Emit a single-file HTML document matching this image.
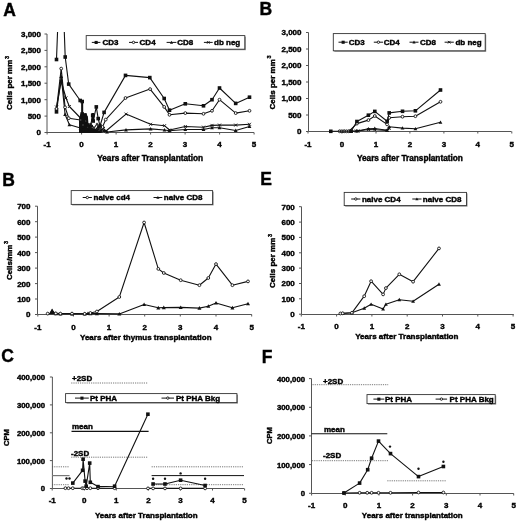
<!DOCTYPE html>
<html><head><meta charset="utf-8"><style>
html,body{margin:0;padding:0;background:#fff;}
svg{display:block;filter:blur(0.35px);}
text{font-family:"Liberation Sans",sans-serif;fill:#000;stroke:#000;stroke-width:0.4px;}
</style></head><body>
<svg width="520" height="523" viewBox="0 0 520 523">
<rect width="520" height="523" fill="#fff"/>
<defs><clipPath id="clipA"><rect x="46" y="32" width="210" height="103"/></clipPath></defs>
<text x="3.3" y="15.5" text-anchor="start" font-size="17.5" font-weight="bold" >A</text>
<line x1="47" y1="34" x2="47" y2="132.5" stroke="#555" stroke-width="1"/>
<line x1="44.5" y1="132.5" x2="47" y2="132.5" stroke="#555" stroke-width="1"/>
<text x="41" y="135.4" text-anchor="end" font-size="8" font-weight="bold" >0</text>
<line x1="44.5" y1="116.1" x2="47" y2="116.1" stroke="#555" stroke-width="1"/>
<text x="41" y="119" text-anchor="end" font-size="8" font-weight="bold" >500</text>
<line x1="44.5" y1="99.7" x2="47" y2="99.7" stroke="#555" stroke-width="1"/>
<text x="41" y="102.6" text-anchor="end" font-size="8" font-weight="bold" >1,000</text>
<line x1="44.5" y1="83.2" x2="47" y2="83.2" stroke="#555" stroke-width="1"/>
<text x="41" y="86.2" text-anchor="end" font-size="8" font-weight="bold" >1,500</text>
<line x1="44.5" y1="66.8" x2="47" y2="66.8" stroke="#555" stroke-width="1"/>
<text x="41" y="69.7" text-anchor="end" font-size="8" font-weight="bold" >2,000</text>
<line x1="44.5" y1="50.4" x2="47" y2="50.4" stroke="#555" stroke-width="1"/>
<text x="41" y="53.3" text-anchor="end" font-size="8" font-weight="bold" >2,500</text>
<line x1="44.5" y1="34" x2="47" y2="34" stroke="#555" stroke-width="1"/>
<text x="41" y="36.9" text-anchor="end" font-size="8" font-weight="bold" >3,000</text>
<line x1="47" y1="132.5" x2="254" y2="132.5" stroke="#555" stroke-width="1"/>
<line x1="47.1" y1="132.5" x2="47.1" y2="134.5" stroke="#555" stroke-width="1"/>
<text x="47.1" y="147.4" text-anchor="middle" font-size="8" font-weight="bold" >-1</text>
<line x1="81.6" y1="132.5" x2="81.6" y2="134.5" stroke="#555" stroke-width="1"/>
<text x="81.6" y="147.4" text-anchor="middle" font-size="8" font-weight="bold" >0</text>
<line x1="116.1" y1="132.5" x2="116.1" y2="134.5" stroke="#555" stroke-width="1"/>
<text x="116.1" y="147.4" text-anchor="middle" font-size="8" font-weight="bold" >1</text>
<line x1="150.6" y1="132.5" x2="150.6" y2="134.5" stroke="#555" stroke-width="1"/>
<text x="150.6" y="147.4" text-anchor="middle" font-size="8" font-weight="bold" >2</text>
<line x1="185.1" y1="132.5" x2="185.1" y2="134.5" stroke="#555" stroke-width="1"/>
<text x="185.1" y="147.4" text-anchor="middle" font-size="8" font-weight="bold" >3</text>
<line x1="219.6" y1="132.5" x2="219.6" y2="134.5" stroke="#555" stroke-width="1"/>
<text x="219.6" y="147.4" text-anchor="middle" font-size="8" font-weight="bold" >4</text>
<line x1="254.1" y1="132.5" x2="254.1" y2="134.5" stroke="#555" stroke-width="1"/>
<text x="254.1" y="147.4" text-anchor="middle" font-size="8" font-weight="bold" >5</text>
<text x="150.2" y="161" text-anchor="middle" font-size="8.25" font-weight="bold" >Years after Transplantation</text>
<text transform="translate(12,83) rotate(-90)" text-anchor="middle" font-size="8" font-weight="bold">Cells per mm<tspan font-size="5.5" dx="0.6" dy="-3.5">3</tspan></text>
<rect x="87.2" y="36.6" width="158.6" height="13.6" fill="#888"/>
<rect x="86.2" y="35.6" width="158.6" height="13.6" fill="#fff" stroke="#333" stroke-width="0.9"/>
<line x1="91.8" y1="42.4" x2="100.4" y2="42.4" stroke="#111" stroke-width="1"/>
<rect x="94.6" y="40.9" width="3.1" height="3.1" fill="#111"/>
<text x="102.5" y="45.3" text-anchor="start" font-size="8" font-weight="bold" >CD3</text>
<line x1="129" y1="42.4" x2="138" y2="42.4" stroke="#111" stroke-width="1"/>
<circle cx="133.5" cy="42.4" r="1.2" fill="#fff" stroke="#111" stroke-width="0.9"/>
<text x="139.6" y="45.3" text-anchor="start" font-size="8" font-weight="bold" >CD4</text>
<line x1="166.6" y1="42.4" x2="176.4" y2="42.4" stroke="#111" stroke-width="1"/>
<path d="M171.5,40.8L173.1,43.7L169.9,43.7Z" fill="#111"/>
<text x="177.3" y="45.3" text-anchor="start" font-size="8" font-weight="bold" >CD8</text>
<line x1="203.9" y1="42.4" x2="212.7" y2="42.4" stroke="#111" stroke-width="1"/>
<path d="M207,41.1L209.6,43.7M209.6,41.1L207,43.7" stroke="#111" stroke-width="0.9"/>
<text x="214" y="45.3" text-anchor="start" font-size="8" font-weight="bold" >db neg</text>
<path d="M79,133 L79,119 L80.5,113.5 L86.5,113 L88,118 L88.5,124 L91,128 L97,129.5 L100,131 L102,133 Z" fill="#111"/>
<rect x="91.5" y="113" width="2.8" height="8" fill="#111"/>
<polyline points="56.5,112 61.2,76.5 65.1,114.5 69.4,124.8 80.5,128 83,130 86,127 89,131 92,129 95,131 98,129 101,131 104,130.5 107,132 126,129.9 150.6,128.9 164.5,130 169.5,130.7 185.3,129.5 203.5,129.5 212,127.7 219.5,127.7 235.7,130.5 249.5,126.5" fill="none" stroke="#111" stroke-width="1.1" stroke-linejoin="round" clip-path="url(#clipA)"/>
<path d="M56.5,110.1L58.4,113.5L54.6,113.5Z" fill="#111"/>
<path d="M61.2,74.6L63.1,78L59.3,78Z" fill="#111"/>
<path d="M65.1,112.6L67,116L63.2,116Z" fill="#111"/>
<path d="M69.4,122.9L71.3,126.3L67.5,126.3Z" fill="#111"/>
<path d="M80.5,126.1L82.4,129.5L78.6,129.5Z" fill="#111"/>
<path d="M83,128.1L84.9,131.5L81.1,131.5Z" fill="#111"/>
<path d="M86,125.1L87.9,128.5L84.1,128.5Z" fill="#111"/>
<path d="M89,129.1L90.9,132.5L87.1,132.5Z" fill="#111"/>
<path d="M92,127.1L93.9,130.5L90.1,130.5Z" fill="#111"/>
<path d="M95,129.1L96.9,132.5L93.1,132.5Z" fill="#111"/>
<path d="M98,127.1L99.9,130.5L96.1,130.5Z" fill="#111"/>
<path d="M101,129.1L102.9,132.5L99.1,132.5Z" fill="#111"/>
<path d="M104,128.6L105.9,132L102.1,132Z" fill="#111"/>
<path d="M107,130.1L108.9,133.5L105.1,133.5Z" fill="#111"/>
<path d="M126,128L127.9,131.4L124.1,131.4Z" fill="#111"/>
<path d="M150.6,127L152.5,130.4L148.7,130.4Z" fill="#111"/>
<path d="M164.5,128.1L166.4,131.5L162.6,131.5Z" fill="#111"/>
<path d="M169.5,128.8L171.4,132.2L167.6,132.2Z" fill="#111"/>
<path d="M185.3,127.6L187.2,131L183.4,131Z" fill="#111"/>
<path d="M203.5,127.6L205.4,131L201.6,131Z" fill="#111"/>
<path d="M212,125.8L213.9,129.2L210.1,129.2Z" fill="#111"/>
<path d="M219.5,125.8L221.4,129.2L217.6,129.2Z" fill="#111"/>
<path d="M235.7,128.6L237.6,132L233.8,132Z" fill="#111"/>
<path d="M249.5,124.6L251.4,128L247.6,128Z" fill="#111"/>
<polyline points="56.5,107 61.2,81.5 66,98 69.4,106.5 80.5,118 83,126 86,123 89,129 92,126 95,130 98,127 101,130 103.5,128.5 106,131 126,114.1 150.6,124.3 164.5,125.7 169.5,130 185.3,126.5 203.5,127.2 212,125.4 219.5,125.1 235.7,125.1 249.5,124.3" fill="none" stroke="#111" stroke-width="1.1" stroke-linejoin="round" clip-path="url(#clipA)"/>
<path d="M55,105.5L58,108.5M58,105.5L55,108.5" stroke="#111" stroke-width="0.9"/>
<path d="M59.7,80L62.7,83M62.7,80L59.7,83" stroke="#111" stroke-width="0.9"/>
<path d="M64.5,96.5L67.5,99.5M67.5,96.5L64.5,99.5" stroke="#111" stroke-width="0.9"/>
<path d="M67.9,105L70.9,108M70.9,105L67.9,108" stroke="#111" stroke-width="0.9"/>
<path d="M79.6,117.1L81.4,118.9M81.4,117.1L79.6,118.9" stroke="#111" stroke-width="0.9"/>
<path d="M82.1,125.1L83.9,126.9M83.9,125.1L82.1,126.9" stroke="#111" stroke-width="0.9"/>
<path d="M85.1,122.1L86.9,123.9M86.9,122.1L85.1,123.9" stroke="#111" stroke-width="0.9"/>
<path d="M88.1,128.1L89.9,129.9M89.9,128.1L88.1,129.9" stroke="#111" stroke-width="0.9"/>
<path d="M91.1,125.1L92.9,126.9M92.9,125.1L91.1,126.9" stroke="#111" stroke-width="0.9"/>
<path d="M94.1,129.1L95.9,130.9M95.9,129.1L94.1,130.9" stroke="#111" stroke-width="0.9"/>
<path d="M97.1,126.1L98.9,127.9M98.9,126.1L97.1,127.9" stroke="#111" stroke-width="0.9"/>
<path d="M100.1,129.1L101.9,130.9M101.9,129.1L100.1,130.9" stroke="#111" stroke-width="0.9"/>
<path d="M102,127L105,130M105,127L102,130" stroke="#111" stroke-width="0.9"/>
<path d="M104.5,129.5L107.5,132.5M107.5,129.5L104.5,132.5" stroke="#111" stroke-width="0.9"/>
<path d="M124.5,112.6L127.5,115.6M127.5,112.6L124.5,115.6" stroke="#111" stroke-width="0.9"/>
<path d="M149.1,122.8L152.1,125.8M152.1,122.8L149.1,125.8" stroke="#111" stroke-width="0.9"/>
<path d="M163,124.2L166,127.2M166,124.2L163,127.2" stroke="#111" stroke-width="0.9"/>
<path d="M168,128.5L171,131.5M171,128.5L168,131.5" stroke="#111" stroke-width="0.9"/>
<path d="M183.8,125L186.8,128M186.8,125L183.8,128" stroke="#111" stroke-width="0.9"/>
<path d="M202,125.7L205,128.7M205,125.7L202,128.7" stroke="#111" stroke-width="0.9"/>
<path d="M210.5,123.9L213.5,126.9M213.5,123.9L210.5,126.9" stroke="#111" stroke-width="0.9"/>
<path d="M218,123.6L221,126.6M221,123.6L218,126.6" stroke="#111" stroke-width="0.9"/>
<path d="M234.2,123.6L237.2,126.6M237.2,123.6L234.2,126.6" stroke="#111" stroke-width="0.9"/>
<path d="M248,122.8L251,125.8M251,122.8L248,125.8" stroke="#111" stroke-width="0.9"/>
<polyline points="56.5,109 61.2,68.6 65.1,107.3 68.8,118.2 80.5,120 83,125 86,121 88,127 91,124 94,128 97,124 100,129 102.5,127 105.7,119.6 125.5,98 150.1,89.1 164.2,106.9 169.5,114.8 185.3,113.1 203.5,113.8 212,110.8 219.5,99.7 235.7,113.1 249.5,110.8" fill="none" stroke="#111" stroke-width="1.1" stroke-linejoin="round" clip-path="url(#clipA)"/>
<circle cx="56.5" cy="109" r="1.4" fill="#fff" stroke="#111" stroke-width="0.9"/>
<circle cx="61.2" cy="68.6" r="1.4" fill="#fff" stroke="#111" stroke-width="0.9"/>
<circle cx="65.1" cy="107.3" r="1.4" fill="#fff" stroke="#111" stroke-width="0.9"/>
<circle cx="68.8" cy="118.2" r="1.4" fill="#fff" stroke="#111" stroke-width="0.9"/>
<circle cx="80.5" cy="120" r="0.8" fill="#fff" stroke="#111" stroke-width="0.9"/>
<circle cx="83" cy="125" r="0.8" fill="#fff" stroke="#111" stroke-width="0.9"/>
<circle cx="86" cy="121" r="0.8" fill="#fff" stroke="#111" stroke-width="0.9"/>
<circle cx="88" cy="127" r="0.8" fill="#fff" stroke="#111" stroke-width="0.9"/>
<circle cx="91" cy="124" r="0.8" fill="#fff" stroke="#111" stroke-width="0.9"/>
<circle cx="94" cy="128" r="0.8" fill="#fff" stroke="#111" stroke-width="0.9"/>
<circle cx="97" cy="124" r="0.8" fill="#fff" stroke="#111" stroke-width="0.9"/>
<circle cx="100" cy="129" r="0.8" fill="#fff" stroke="#111" stroke-width="0.9"/>
<circle cx="102.5" cy="127" r="1.4" fill="#fff" stroke="#111" stroke-width="0.9"/>
<circle cx="105.7" cy="119.6" r="1.4" fill="#fff" stroke="#111" stroke-width="0.9"/>
<circle cx="125.5" cy="98" r="1.4" fill="#fff" stroke="#111" stroke-width="0.9"/>
<circle cx="150.1" cy="89.1" r="1.4" fill="#fff" stroke="#111" stroke-width="0.9"/>
<circle cx="164.2" cy="106.9" r="1.4" fill="#fff" stroke="#111" stroke-width="0.9"/>
<circle cx="169.5" cy="114.8" r="1.4" fill="#fff" stroke="#111" stroke-width="0.9"/>
<circle cx="185.3" cy="113.1" r="1.4" fill="#fff" stroke="#111" stroke-width="0.9"/>
<circle cx="203.5" cy="113.8" r="1.4" fill="#fff" stroke="#111" stroke-width="0.9"/>
<circle cx="212" cy="110.8" r="1.4" fill="#fff" stroke="#111" stroke-width="0.9"/>
<circle cx="219.5" cy="99.7" r="1.4" fill="#fff" stroke="#111" stroke-width="0.9"/>
<circle cx="235.7" cy="113.1" r="1.4" fill="#fff" stroke="#111" stroke-width="0.9"/>
<circle cx="249.5" cy="110.8" r="1.4" fill="#fff" stroke="#111" stroke-width="0.9"/>
<polyline points="56.5,59.5 61,-60 65.2,57 68.7,84.1 80.2,100.5 82.2,101.5 82.2,114 84,116 86,118 88,125 90,128 92.7,115.4 93.2,121 96.3,106.9 98.2,118.6 100,126 104.1,112.4 125.5,75.4 149.8,77.6 164.2,98.5 169.5,110.2 185.3,103.8 203.5,105.8 212,99.7 219.5,88 235.7,103.4 249.5,97.2" fill="none" stroke="#111" stroke-width="1.1" stroke-linejoin="round" clip-path="url(#clipA)"/>
<rect x="54.7" y="57.7" width="3.6" height="3.6" fill="#111"/>
<rect x="63.4" y="55.2" width="3.6" height="3.6" fill="#111"/>
<rect x="66.9" y="82.3" width="3.6" height="3.6" fill="#111"/>
<rect x="78.4" y="98.7" width="3.6" height="3.6" fill="#111"/>
<rect x="80.4" y="99.7" width="3.6" height="3.6" fill="#111"/>
<rect x="80.4" y="112.2" width="3.6" height="3.6" fill="#111"/>
<rect x="82.2" y="114.2" width="3.6" height="3.6" fill="#111"/>
<rect x="84.2" y="116.2" width="3.6" height="3.6" fill="#111"/>
<rect x="86.2" y="123.2" width="3.6" height="3.6" fill="#111"/>
<rect x="88.2" y="126.2" width="3.6" height="3.6" fill="#111"/>
<rect x="90.9" y="113.6" width="3.6" height="3.6" fill="#111"/>
<rect x="91.4" y="119.2" width="3.6" height="3.6" fill="#111"/>
<rect x="94.5" y="105.1" width="3.6" height="3.6" fill="#111"/>
<rect x="96.4" y="116.8" width="3.6" height="3.6" fill="#111"/>
<rect x="98.2" y="124.2" width="3.6" height="3.6" fill="#111"/>
<rect x="102.3" y="110.6" width="3.6" height="3.6" fill="#111"/>
<rect x="123.7" y="73.6" width="3.6" height="3.6" fill="#111"/>
<rect x="148" y="75.8" width="3.6" height="3.6" fill="#111"/>
<rect x="162.4" y="96.7" width="3.6" height="3.6" fill="#111"/>
<rect x="167.7" y="108.4" width="3.6" height="3.6" fill="#111"/>
<rect x="183.5" y="102" width="3.6" height="3.6" fill="#111"/>
<rect x="201.7" y="104" width="3.6" height="3.6" fill="#111"/>
<rect x="210.2" y="97.9" width="3.6" height="3.6" fill="#111"/>
<rect x="217.7" y="86.2" width="3.6" height="3.6" fill="#111"/>
<rect x="233.9" y="101.6" width="3.6" height="3.6" fill="#111"/>
<rect x="247.7" y="95.4" width="3.6" height="3.6" fill="#111"/>
<rect x="54.7" y="109.7" width="3.6" height="3.6" fill="#111"/>
<line x1="82.2" y1="100" x2="82.2" y2="115" stroke="#111" stroke-width="2"/>
<text x="259.6" y="14.9" text-anchor="start" font-size="17.5" font-weight="bold" >B</text>
<line x1="308.5" y1="32.5" x2="308.5" y2="131.5" stroke="#555" stroke-width="1"/>
<line x1="306" y1="131.5" x2="308.5" y2="131.5" stroke="#555" stroke-width="1"/>
<text x="301.5" y="134.4" text-anchor="end" font-size="8" font-weight="bold" >0</text>
<line x1="306" y1="115" x2="308.5" y2="115" stroke="#555" stroke-width="1"/>
<text x="301.5" y="117.9" text-anchor="end" font-size="8" font-weight="bold" >500</text>
<line x1="306" y1="98.5" x2="308.5" y2="98.5" stroke="#555" stroke-width="1"/>
<text x="301.5" y="101.4" text-anchor="end" font-size="8" font-weight="bold" >1,000</text>
<line x1="306" y1="82" x2="308.5" y2="82" stroke="#555" stroke-width="1"/>
<text x="301.5" y="84.9" text-anchor="end" font-size="8" font-weight="bold" >1,500</text>
<line x1="306" y1="65.5" x2="308.5" y2="65.5" stroke="#555" stroke-width="1"/>
<text x="301.5" y="68.4" text-anchor="end" font-size="8" font-weight="bold" >2,000</text>
<line x1="306" y1="49" x2="308.5" y2="49" stroke="#555" stroke-width="1"/>
<text x="301.5" y="51.9" text-anchor="end" font-size="8" font-weight="bold" >2,500</text>
<line x1="306" y1="32.5" x2="308.5" y2="32.5" stroke="#555" stroke-width="1"/>
<text x="301.5" y="35.4" text-anchor="end" font-size="8" font-weight="bold" >3,000</text>
<line x1="308.5" y1="131.5" x2="511.5" y2="131.5" stroke="#555" stroke-width="1"/>
<line x1="308" y1="131.5" x2="308" y2="133.5" stroke="#555" stroke-width="1"/>
<text x="308" y="146.9" text-anchor="middle" font-size="8" font-weight="bold" >-1</text>
<line x1="342" y1="131.5" x2="342" y2="133.5" stroke="#555" stroke-width="1"/>
<text x="342" y="146.9" text-anchor="middle" font-size="8" font-weight="bold" >0</text>
<line x1="376" y1="131.5" x2="376" y2="133.5" stroke="#555" stroke-width="1"/>
<text x="376" y="146.9" text-anchor="middle" font-size="8" font-weight="bold" >1</text>
<line x1="409.9" y1="131.5" x2="409.9" y2="133.5" stroke="#555" stroke-width="1"/>
<text x="409.9" y="146.9" text-anchor="middle" font-size="8" font-weight="bold" >2</text>
<line x1="443.9" y1="131.5" x2="443.9" y2="133.5" stroke="#555" stroke-width="1"/>
<text x="443.9" y="146.9" text-anchor="middle" font-size="8" font-weight="bold" >3</text>
<line x1="477.8" y1="131.5" x2="477.8" y2="133.5" stroke="#555" stroke-width="1"/>
<text x="477.8" y="146.9" text-anchor="middle" font-size="8" font-weight="bold" >4</text>
<line x1="511.8" y1="131.5" x2="511.8" y2="133.5" stroke="#555" stroke-width="1"/>
<text x="511.8" y="146.9" text-anchor="middle" font-size="8" font-weight="bold" >5</text>
<text x="409.9" y="160.7" text-anchor="middle" font-size="8.25" font-weight="bold" >Years after Transplantation</text>
<text transform="translate(274.9,82.5) rotate(-90)" text-anchor="middle" font-size="8" font-weight="bold">Cells per mm<tspan font-size="5.5" dx="0.6" dy="-3.5">3</tspan></text>
<rect x="334.3" y="34.6" width="151.9" height="17.2" fill="#888"/>
<rect x="333.3" y="33.6" width="151.9" height="17.2" fill="#fff" stroke="#333" stroke-width="0.9"/>
<line x1="338.5" y1="42.2" x2="347.7" y2="42.2" stroke="#111" stroke-width="1"/>
<rect x="341.6" y="40.7" width="3.1" height="3.1" fill="#111"/>
<text x="348.8" y="45.1" text-anchor="start" font-size="8" font-weight="bold" >CD3</text>
<line x1="373.8" y1="42.2" x2="383" y2="42.2" stroke="#111" stroke-width="1"/>
<circle cx="378.4" cy="42.2" r="1.2" fill="#fff" stroke="#111" stroke-width="0.9"/>
<text x="383.8" y="45.1" text-anchor="start" font-size="8" font-weight="bold" >CD4</text>
<line x1="409.5" y1="42.2" x2="418.5" y2="42.2" stroke="#111" stroke-width="1"/>
<path d="M414,40.6L415.6,43.5L412.4,43.5Z" fill="#111"/>
<text x="420" y="45.1" text-anchor="start" font-size="8" font-weight="bold" >CD8</text>
<line x1="444.6" y1="42.2" x2="453.8" y2="42.2" stroke="#111" stroke-width="1"/>
<path d="M447.9,40.9L450.5,43.5M450.5,40.9L447.9,43.5" stroke="#111" stroke-width="0.9"/>
<text x="455.4" y="45.1" text-anchor="start" font-size="8" font-weight="bold" >db neg</text>
<polyline points="351.1,131.2 356.9,131 368.4,128.8 374.8,128.5 387.1,130.2 389.2,126.8 402.5,128.1 415.4,128.8 440.5,122.3" fill="none" stroke="#111" stroke-width="1.1" stroke-linejoin="round"/>
<path d="M351.1,129.3L353,132.7L349.2,132.7Z" fill="#111"/>
<path d="M356.9,129.1L358.8,132.5L355,132.5Z" fill="#111"/>
<path d="M368.4,126.9L370.3,130.3L366.5,130.3Z" fill="#111"/>
<path d="M374.8,126.6L376.7,130L372.9,130Z" fill="#111"/>
<path d="M387.1,128.3L389,131.7L385.2,131.7Z" fill="#111"/>
<path d="M389.2,124.9L391.1,128.3L387.3,128.3Z" fill="#111"/>
<path d="M402.5,126.2L404.4,129.6L400.6,129.6Z" fill="#111"/>
<path d="M415.4,126.9L417.3,130.3L413.5,130.3Z" fill="#111"/>
<path d="M440.5,120.4L442.4,123.8L438.6,123.8Z" fill="#111"/>
<polyline points="341.9,131.3 346.5,131.3 356.3,131 358,131 368.4,129.5 374.8,129.8 387.1,130.5 389.2,128.5" fill="none" stroke="#111" stroke-width="1.1" stroke-linejoin="round"/>
<path d="M340.4,129.8L343.4,132.8M343.4,129.8L340.4,132.8" stroke="#111" stroke-width="0.9"/>
<path d="M345,129.8L348,132.8M348,129.8L345,132.8" stroke="#111" stroke-width="0.9"/>
<path d="M354.8,129.5L357.8,132.5M357.8,129.5L354.8,132.5" stroke="#111" stroke-width="0.9"/>
<path d="M356.5,129.5L359.5,132.5M359.5,129.5L356.5,132.5" stroke="#111" stroke-width="0.9"/>
<path d="M366.9,128L369.9,131M369.9,128L366.9,131" stroke="#111" stroke-width="0.9"/>
<path d="M373.3,128.3L376.3,131.3M376.3,128.3L373.3,131.3" stroke="#111" stroke-width="0.9"/>
<path d="M385.6,129L388.6,132M388.6,129L385.6,132" stroke="#111" stroke-width="0.9"/>
<path d="M387.7,127L390.7,130M390.7,127L387.7,130" stroke="#111" stroke-width="0.9"/>
<polyline points="339.6,131.3 341.9,131.3 344.2,131.3 346.5,131.3 348.8,131.3 356.9,123.6 368.4,120.1 374.8,116 387.1,124.4 389.2,117.8 402.5,116.7 415.4,116.2 440.5,101.8" fill="none" stroke="#111" stroke-width="1.1" stroke-linejoin="round"/>
<circle cx="339.6" cy="131.3" r="1.4" fill="#fff" stroke="#111" stroke-width="0.9"/>
<circle cx="341.9" cy="131.3" r="1.4" fill="#fff" stroke="#111" stroke-width="0.9"/>
<circle cx="344.2" cy="131.3" r="1.4" fill="#fff" stroke="#111" stroke-width="0.9"/>
<circle cx="346.5" cy="131.3" r="1.4" fill="#fff" stroke="#111" stroke-width="0.9"/>
<circle cx="348.8" cy="131.3" r="1.4" fill="#fff" stroke="#111" stroke-width="0.9"/>
<circle cx="356.9" cy="123.6" r="1.4" fill="#fff" stroke="#111" stroke-width="0.9"/>
<circle cx="368.4" cy="120.1" r="1.4" fill="#fff" stroke="#111" stroke-width="0.9"/>
<circle cx="374.8" cy="116" r="1.4" fill="#fff" stroke="#111" stroke-width="0.9"/>
<circle cx="387.1" cy="124.4" r="1.4" fill="#fff" stroke="#111" stroke-width="0.9"/>
<circle cx="389.2" cy="117.8" r="1.4" fill="#fff" stroke="#111" stroke-width="0.9"/>
<circle cx="402.5" cy="116.7" r="1.4" fill="#fff" stroke="#111" stroke-width="0.9"/>
<circle cx="415.4" cy="116.2" r="1.4" fill="#fff" stroke="#111" stroke-width="0.9"/>
<circle cx="440.5" cy="101.8" r="1.4" fill="#fff" stroke="#111" stroke-width="0.9"/>
<polyline points="330.8,131.3 351.1,131.2 356.9,121.5 368.4,115.2 374.8,111.4 387.1,121.3 389.2,112.9 402.5,111.3 415.4,110.8 440.5,90" fill="none" stroke="#111" stroke-width="1.1" stroke-linejoin="round"/>
<rect x="329" y="129.5" width="3.6" height="3.6" fill="#111"/>
<rect x="349.3" y="129.4" width="3.6" height="3.6" fill="#111"/>
<rect x="355.1" y="119.7" width="3.6" height="3.6" fill="#111"/>
<rect x="366.6" y="113.4" width="3.6" height="3.6" fill="#111"/>
<rect x="373" y="109.6" width="3.6" height="3.6" fill="#111"/>
<rect x="385.3" y="119.5" width="3.6" height="3.6" fill="#111"/>
<rect x="387.4" y="111.1" width="3.6" height="3.6" fill="#111"/>
<rect x="400.7" y="109.5" width="3.6" height="3.6" fill="#111"/>
<rect x="413.6" y="109" width="3.6" height="3.6" fill="#111"/>
<rect x="438.7" y="88.2" width="3.6" height="3.6" fill="#111"/>
<text x="2.3" y="185.6" text-anchor="start" font-size="17.5" font-weight="bold" >B</text>
<line x1="37.5" y1="206.2" x2="37.5" y2="314.5" stroke="#555" stroke-width="1"/>
<line x1="35" y1="314.5" x2="37.5" y2="314.5" stroke="#555" stroke-width="1"/>
<text x="30.5" y="317.4" text-anchor="end" font-size="8" font-weight="bold" >0</text>
<line x1="35" y1="299" x2="37.5" y2="299" stroke="#555" stroke-width="1"/>
<text x="30.5" y="301.9" text-anchor="end" font-size="8" font-weight="bold" >100</text>
<line x1="35" y1="283.6" x2="37.5" y2="283.6" stroke="#555" stroke-width="1"/>
<text x="30.5" y="286.5" text-anchor="end" font-size="8" font-weight="bold" >200</text>
<line x1="35" y1="268.1" x2="37.5" y2="268.1" stroke="#555" stroke-width="1"/>
<text x="30.5" y="271" text-anchor="end" font-size="8" font-weight="bold" >300</text>
<line x1="35" y1="252.6" x2="37.5" y2="252.6" stroke="#555" stroke-width="1"/>
<text x="30.5" y="255.5" text-anchor="end" font-size="8" font-weight="bold" >400</text>
<line x1="35" y1="237.1" x2="37.5" y2="237.1" stroke="#555" stroke-width="1"/>
<text x="30.5" y="240" text-anchor="end" font-size="8" font-weight="bold" >500</text>
<line x1="35" y1="221.7" x2="37.5" y2="221.7" stroke="#555" stroke-width="1"/>
<text x="30.5" y="224.6" text-anchor="end" font-size="8" font-weight="bold" >600</text>
<line x1="35" y1="206.2" x2="37.5" y2="206.2" stroke="#555" stroke-width="1"/>
<text x="30.5" y="209.1" text-anchor="end" font-size="8" font-weight="bold" >700</text>
<line x1="37.5" y1="314.5" x2="251.8" y2="314.5" stroke="#555" stroke-width="1"/>
<line x1="37.8" y1="314.5" x2="37.8" y2="316.5" stroke="#555" stroke-width="1"/>
<text x="37.8" y="329.9" text-anchor="middle" font-size="8" font-weight="bold" >-1</text>
<line x1="73.4" y1="314.5" x2="73.4" y2="316.5" stroke="#555" stroke-width="1"/>
<text x="73.4" y="329.9" text-anchor="middle" font-size="8" font-weight="bold" >0</text>
<line x1="109.1" y1="314.5" x2="109.1" y2="316.5" stroke="#555" stroke-width="1"/>
<text x="109.1" y="329.9" text-anchor="middle" font-size="8" font-weight="bold" >1</text>
<line x1="144.7" y1="314.5" x2="144.7" y2="316.5" stroke="#555" stroke-width="1"/>
<text x="144.7" y="329.9" text-anchor="middle" font-size="8" font-weight="bold" >2</text>
<line x1="180.3" y1="314.5" x2="180.3" y2="316.5" stroke="#555" stroke-width="1"/>
<text x="180.3" y="329.9" text-anchor="middle" font-size="8" font-weight="bold" >3</text>
<line x1="216" y1="314.5" x2="216" y2="316.5" stroke="#555" stroke-width="1"/>
<text x="216" y="329.9" text-anchor="middle" font-size="8" font-weight="bold" >4</text>
<line x1="251.7" y1="314.5" x2="251.7" y2="316.5" stroke="#555" stroke-width="1"/>
<text x="251.7" y="329.9" text-anchor="middle" font-size="8" font-weight="bold" >5</text>
<text x="145.8" y="339.5" text-anchor="middle" font-size="8" font-weight="bold" >Years after thymus transplantation</text>
<text transform="translate(11.5,260.5) rotate(-90)" text-anchor="middle" font-size="8" font-weight="bold">Cells/mm<tspan font-size="5.5" dx="0.6" dy="-3.5">3</tspan></text>
<rect x="72.2" y="191.6" width="141.4" height="13.8" fill="#888"/>
<rect x="71.2" y="190.6" width="141.4" height="13.8" fill="#fff" stroke="#333" stroke-width="0.9"/>
<line x1="82.7" y1="197.5" x2="91.9" y2="197.5" stroke="#111" stroke-width="1"/>
<circle cx="87.3" cy="197.5" r="1.2" fill="#fff" stroke="#111" stroke-width="0.9"/>
<text x="93.5" y="200.4" text-anchor="start" font-size="8" font-weight="bold" >naive cd4</text>
<line x1="153.5" y1="197.5" x2="162.3" y2="197.5" stroke="#111" stroke-width="1"/>
<path d="M157.9,195.9L159.5,198.8L156.3,198.8Z" fill="#111"/>
<text x="163.8" y="200.4" text-anchor="start" font-size="8" font-weight="bold" >naive CD8</text>
<polyline points="52.1,311 55.8,313.6 60.4,313.8 72,313.8 84.7,313.8 88,313.5 90.4,313.6 96.9,313.6 119.3,313.9 144.1,304.5 158.3,307.8 163.8,307.6 180.7,307.4 199.4,308.1 208.3,306.2 216,303 232.4,307.8 248,303.8" fill="none" stroke="#111" stroke-width="1.1" stroke-linejoin="round"/>
<path d="M52.1,309L54.1,312.6L50.1,312.6Z" fill="#111"/>
<path d="M55.8,311.6L57.8,315.2L53.8,315.2Z" fill="#111"/>
<path d="M60.4,311.8L62.4,315.4L58.4,315.4Z" fill="#111"/>
<path d="M72,311.8L74,315.4L70,315.4Z" fill="#111"/>
<path d="M84.7,311.8L86.7,315.4L82.7,315.4Z" fill="#111"/>
<path d="M88,311.5L90,315.1L86,315.1Z" fill="#111"/>
<path d="M90.4,311.6L92.4,315.2L88.4,315.2Z" fill="#111"/>
<path d="M96.9,311.6L98.9,315.2L94.9,315.2Z" fill="#111"/>
<path d="M119.3,311.9L121.3,315.5L117.3,315.5Z" fill="#111"/>
<path d="M144.1,302.5L146.1,306.1L142.1,306.1Z" fill="#111"/>
<path d="M158.3,305.8L160.3,309.4L156.3,309.4Z" fill="#111"/>
<path d="M163.8,305.6L165.8,309.2L161.8,309.2Z" fill="#111"/>
<path d="M180.7,305.4L182.7,309L178.7,309Z" fill="#111"/>
<path d="M199.4,306.1L201.4,309.7L197.4,309.7Z" fill="#111"/>
<path d="M208.3,304.2L210.3,307.8L206.3,307.8Z" fill="#111"/>
<path d="M216,301L218,304.6L214,304.6Z" fill="#111"/>
<path d="M232.4,305.8L234.4,309.4L230.4,309.4Z" fill="#111"/>
<path d="M248,301.8L250,305.3L246,305.3Z" fill="#111"/>
<path d="M52.1,308.5L54.6,313L49.6,313Z" fill="#111"/>
<polyline points="47.7,313.6 55.8,313.4 60.4,313.6 72,313.6 84.7,313.8 90.4,313 96.9,311.5 119.3,297 144.1,222.5 158.3,268.9 163.8,273 180.7,280.2 199.4,285.2 208.3,278 216,264.1 232.4,285.2 248,281.4" fill="none" stroke="#111" stroke-width="1.1" stroke-linejoin="round"/>
<circle cx="47.7" cy="313.6" r="1.4" fill="#fff" stroke="#111" stroke-width="0.9"/>
<circle cx="55.8" cy="313.4" r="1.4" fill="#fff" stroke="#111" stroke-width="0.9"/>
<circle cx="60.4" cy="313.6" r="1.4" fill="#fff" stroke="#111" stroke-width="0.9"/>
<circle cx="72" cy="313.6" r="1.4" fill="#fff" stroke="#111" stroke-width="0.9"/>
<circle cx="84.7" cy="313.8" r="1.4" fill="#fff" stroke="#111" stroke-width="0.9"/>
<circle cx="90.4" cy="313" r="1.4" fill="#fff" stroke="#111" stroke-width="0.9"/>
<circle cx="96.9" cy="311.5" r="1.4" fill="#fff" stroke="#111" stroke-width="0.9"/>
<circle cx="119.3" cy="297" r="1.4" fill="#fff" stroke="#111" stroke-width="0.9"/>
<circle cx="144.1" cy="222.5" r="1.4" fill="#fff" stroke="#111" stroke-width="0.9"/>
<circle cx="158.3" cy="268.9" r="1.4" fill="#fff" stroke="#111" stroke-width="0.9"/>
<circle cx="163.8" cy="273" r="1.4" fill="#fff" stroke="#111" stroke-width="0.9"/>
<circle cx="180.7" cy="280.2" r="1.4" fill="#fff" stroke="#111" stroke-width="0.9"/>
<circle cx="199.4" cy="285.2" r="1.4" fill="#fff" stroke="#111" stroke-width="0.9"/>
<circle cx="208.3" cy="278" r="1.4" fill="#fff" stroke="#111" stroke-width="0.9"/>
<circle cx="216" cy="264.1" r="1.4" fill="#fff" stroke="#111" stroke-width="0.9"/>
<circle cx="232.4" cy="285.2" r="1.4" fill="#fff" stroke="#111" stroke-width="0.9"/>
<circle cx="248" cy="281.4" r="1.4" fill="#fff" stroke="#111" stroke-width="0.9"/>
<text x="260.3" y="185.2" text-anchor="start" font-size="17.5" font-weight="bold" >E</text>
<line x1="301.5" y1="206.7" x2="301.5" y2="314.5" stroke="#555" stroke-width="1"/>
<line x1="299" y1="314.2" x2="301.5" y2="314.2" stroke="#555" stroke-width="1"/>
<text x="294.8" y="317.1" text-anchor="end" font-size="8" font-weight="bold" >0</text>
<line x1="299" y1="298.8" x2="301.5" y2="298.8" stroke="#555" stroke-width="1"/>
<text x="294.8" y="301.7" text-anchor="end" font-size="8" font-weight="bold" >100</text>
<line x1="299" y1="283.5" x2="301.5" y2="283.5" stroke="#555" stroke-width="1"/>
<text x="294.8" y="286.4" text-anchor="end" font-size="8" font-weight="bold" >200</text>
<line x1="299" y1="268.1" x2="301.5" y2="268.1" stroke="#555" stroke-width="1"/>
<text x="294.8" y="271" text-anchor="end" font-size="8" font-weight="bold" >300</text>
<line x1="299" y1="252.8" x2="301.5" y2="252.8" stroke="#555" stroke-width="1"/>
<text x="294.8" y="255.7" text-anchor="end" font-size="8" font-weight="bold" >400</text>
<line x1="299" y1="237.4" x2="301.5" y2="237.4" stroke="#555" stroke-width="1"/>
<text x="294.8" y="240.3" text-anchor="end" font-size="8" font-weight="bold" >500</text>
<line x1="299" y1="222.1" x2="301.5" y2="222.1" stroke="#555" stroke-width="1"/>
<text x="294.8" y="225" text-anchor="end" font-size="8" font-weight="bold" >600</text>
<line x1="299" y1="206.7" x2="301.5" y2="206.7" stroke="#555" stroke-width="1"/>
<text x="294.8" y="209.6" text-anchor="end" font-size="8" font-weight="bold" >700</text>
<line x1="301.5" y1="314.5" x2="513.8" y2="314.5" stroke="#555" stroke-width="1"/>
<line x1="301.3" y1="314.5" x2="301.3" y2="316.5" stroke="#555" stroke-width="1"/>
<text x="301.3" y="329.1" text-anchor="middle" font-size="8" font-weight="bold" >-1</text>
<line x1="336.6" y1="314.5" x2="336.6" y2="316.5" stroke="#555" stroke-width="1"/>
<text x="336.6" y="329.1" text-anchor="middle" font-size="8" font-weight="bold" >0</text>
<line x1="371.9" y1="314.5" x2="371.9" y2="316.5" stroke="#555" stroke-width="1"/>
<text x="371.9" y="329.1" text-anchor="middle" font-size="8" font-weight="bold" >1</text>
<line x1="407.2" y1="314.5" x2="407.2" y2="316.5" stroke="#555" stroke-width="1"/>
<text x="407.2" y="329.1" text-anchor="middle" font-size="8" font-weight="bold" >2</text>
<line x1="442.5" y1="314.5" x2="442.5" y2="316.5" stroke="#555" stroke-width="1"/>
<text x="442.5" y="329.1" text-anchor="middle" font-size="8" font-weight="bold" >3</text>
<line x1="477.8" y1="314.5" x2="477.8" y2="316.5" stroke="#555" stroke-width="1"/>
<text x="477.8" y="329.1" text-anchor="middle" font-size="8" font-weight="bold" >4</text>
<line x1="513.1" y1="314.5" x2="513.1" y2="316.5" stroke="#555" stroke-width="1"/>
<text x="513.1" y="329.1" text-anchor="middle" font-size="8" font-weight="bold" >5</text>
<text x="406.8" y="339.2" text-anchor="middle" font-size="8.05" font-weight="bold" >Years after Transplantation</text>
<text transform="translate(275.3,261) rotate(-90)" text-anchor="middle" font-size="8" font-weight="bold">Cells per mm<tspan font-size="5.5" dx="0.6" dy="-3.5">3</tspan></text>
<rect x="345.2" y="193.4" width="122.3" height="13.2" fill="#888"/>
<rect x="344.2" y="192.4" width="122.3" height="13.2" fill="#fff" stroke="#333" stroke-width="0.9"/>
<line x1="351.2" y1="199" x2="360.4" y2="199" stroke="#111" stroke-width="1"/>
<circle cx="355.8" cy="199" r="1.2" fill="#fff" stroke="#111" stroke-width="0.9"/>
<text x="361.9" y="201.9" text-anchor="start" font-size="8" font-weight="bold" >naive CD4</text>
<line x1="412.3" y1="199" x2="421.5" y2="199" stroke="#111" stroke-width="1"/>
<path d="M416.9,197.4L418.5,200.3L415.3,200.3Z" fill="#111"/>
<text x="422.8" y="201.9" text-anchor="start" font-size="8" font-weight="bold" >naive CD8</text>
<polyline points="340.4,313.6 342.7,313.5 351.9,312.8 364.2,308.2 371.1,304.3 383.1,308.9 385.9,304.3 399.3,299.7 413.1,301.3 439,284.2" fill="none" stroke="#111" stroke-width="1.1" stroke-linejoin="round"/>
<path d="M340.4,311.7L342.3,315.1L338.5,315.1Z" fill="#111"/>
<path d="M342.7,311.6L344.6,315L340.8,315Z" fill="#111"/>
<path d="M351.9,310.9L353.8,314.3L350,314.3Z" fill="#111"/>
<path d="M364.2,306.3L366.1,309.7L362.3,309.7Z" fill="#111"/>
<path d="M371.1,302.4L373,305.8L369.2,305.8Z" fill="#111"/>
<path d="M383.1,307L385,310.4L381.2,310.4Z" fill="#111"/>
<path d="M385.9,302.4L387.8,305.8L384,305.8Z" fill="#111"/>
<path d="M399.3,297.8L401.2,301.2L397.4,301.2Z" fill="#111"/>
<path d="M413.1,299.4L415,302.8L411.2,302.8Z" fill="#111"/>
<path d="M439,282.3L440.9,285.7L437.1,285.7Z" fill="#111"/>
<polyline points="340.4,313.5 342.7,313.3 351.9,312.8 364.2,296.2 371.1,281.2 383.1,294.4 385.9,288.1 399.3,274.3 413.1,281.7 439,248.4" fill="none" stroke="#111" stroke-width="1.1" stroke-linejoin="round"/>
<circle cx="340.4" cy="313.5" r="1.4" fill="#fff" stroke="#111" stroke-width="0.9"/>
<circle cx="342.7" cy="313.3" r="1.4" fill="#fff" stroke="#111" stroke-width="0.9"/>
<circle cx="351.9" cy="312.8" r="1.4" fill="#fff" stroke="#111" stroke-width="0.9"/>
<circle cx="364.2" cy="296.2" r="1.4" fill="#fff" stroke="#111" stroke-width="0.9"/>
<circle cx="371.1" cy="281.2" r="1.4" fill="#fff" stroke="#111" stroke-width="0.9"/>
<circle cx="383.1" cy="294.4" r="1.4" fill="#fff" stroke="#111" stroke-width="0.9"/>
<circle cx="385.9" cy="288.1" r="1.4" fill="#fff" stroke="#111" stroke-width="0.9"/>
<circle cx="399.3" cy="274.3" r="1.4" fill="#fff" stroke="#111" stroke-width="0.9"/>
<circle cx="413.1" cy="281.7" r="1.4" fill="#fff" stroke="#111" stroke-width="0.9"/>
<circle cx="439" cy="248.4" r="1.4" fill="#fff" stroke="#111" stroke-width="0.9"/>
<text x="1.3" y="362.1" text-anchor="start" font-size="17.5" font-weight="bold" >C</text>
<line x1="52.4" y1="377" x2="52.4" y2="488.5" stroke="#555" stroke-width="1"/>
<line x1="49.9" y1="488.5" x2="52.4" y2="488.5" stroke="#555" stroke-width="1"/>
<text x="45" y="491.4" text-anchor="end" font-size="7.75" font-weight="bold" >0</text>
<line x1="49.9" y1="460.6" x2="52.4" y2="460.6" stroke="#555" stroke-width="1"/>
<text x="45" y="463.5" text-anchor="end" font-size="7.75" font-weight="bold" >100,000</text>
<line x1="49.9" y1="432.8" x2="52.4" y2="432.8" stroke="#555" stroke-width="1"/>
<text x="45" y="435.6" text-anchor="end" font-size="7.75" font-weight="bold" >200,000</text>
<line x1="49.9" y1="404.9" x2="52.4" y2="404.9" stroke="#555" stroke-width="1"/>
<text x="45" y="407.8" text-anchor="end" font-size="7.75" font-weight="bold" >300,000</text>
<line x1="49.9" y1="377" x2="52.4" y2="377" stroke="#555" stroke-width="1"/>
<text x="45" y="379.9" text-anchor="end" font-size="7.75" font-weight="bold" >400,000</text>
<line x1="52.4" y1="488.5" x2="244.3" y2="488.5" stroke="#555" stroke-width="1"/>
<line x1="52.2" y1="488.5" x2="52.2" y2="490.5" stroke="#555" stroke-width="1"/>
<text x="52.2" y="503.4" text-anchor="middle" font-size="8" font-weight="bold" >-1</text>
<line x1="84.3" y1="488.5" x2="84.3" y2="490.5" stroke="#555" stroke-width="1"/>
<text x="84.3" y="503.4" text-anchor="middle" font-size="8" font-weight="bold" >0</text>
<line x1="116.3" y1="488.5" x2="116.3" y2="490.5" stroke="#555" stroke-width="1"/>
<text x="116.3" y="503.4" text-anchor="middle" font-size="8" font-weight="bold" >1</text>
<line x1="148.4" y1="488.5" x2="148.4" y2="490.5" stroke="#555" stroke-width="1"/>
<text x="148.4" y="503.4" text-anchor="middle" font-size="8" font-weight="bold" >2</text>
<line x1="180.4" y1="488.5" x2="180.4" y2="490.5" stroke="#555" stroke-width="1"/>
<text x="180.4" y="503.4" text-anchor="middle" font-size="8" font-weight="bold" >3</text>
<line x1="212.5" y1="488.5" x2="212.5" y2="490.5" stroke="#555" stroke-width="1"/>
<text x="212.5" y="503.4" text-anchor="middle" font-size="8" font-weight="bold" >4</text>
<line x1="244.6" y1="488.5" x2="244.6" y2="490.5" stroke="#555" stroke-width="1"/>
<text x="244.6" y="503.4" text-anchor="middle" font-size="8" font-weight="bold" >5</text>
<text x="146.3" y="517.5" text-anchor="middle" font-size="8" font-weight="bold" >Years after Transplantation</text>
<text transform="translate(8.8,437.5) rotate(-90)" text-anchor="middle" font-size="7.6" font-weight="bold">CPM</text>
<line x1="71.2" y1="383" x2="148" y2="383" stroke="#555" stroke-width="0.8" stroke-dasharray="1.2,1"/>
<text x="72" y="380.5" text-anchor="start" font-size="8" font-weight="bold" >+2SD</text>
<line x1="71.5" y1="431.4" x2="148.6" y2="431.4" stroke="#111" stroke-width="1.1"/>
<text x="72" y="429" text-anchor="start" font-size="8" font-weight="bold" >mean</text>
<line x1="71.2" y1="457.2" x2="148" y2="457.2" stroke="#555" stroke-width="0.8" stroke-dasharray="1.2,1"/>
<text x="71" y="456" text-anchor="start" font-size="8" font-weight="bold" >-2SD</text>
<line x1="52" y1="466.8" x2="69.6" y2="466.8" stroke="#555" stroke-width="0.8" stroke-dasharray="1.2,1"/>
<line x1="151.6" y1="466.8" x2="244" y2="466.8" stroke="#555" stroke-width="0.8" stroke-dasharray="1.2,1"/>
<line x1="52" y1="475.6" x2="69.6" y2="475.6" stroke="#777" stroke-width="1.2"/>
<line x1="151.6" y1="475.6" x2="244" y2="475.6" stroke="#111" stroke-width="1"/>
<line x1="52" y1="484.7" x2="69.6" y2="484.7" stroke="#555" stroke-width="0.8" stroke-dasharray="1.2,1"/>
<line x1="151.6" y1="484.7" x2="244" y2="484.7" stroke="#555" stroke-width="0.8" stroke-dasharray="1.2,1"/>
<rect x="66.6" y="394.6" width="171.3" height="9" fill="#888"/>
<rect x="65.6" y="393.6" width="171.3" height="9" fill="#fff" stroke="#333" stroke-width="0.9"/>
<line x1="75" y1="398.1" x2="88.8" y2="398.1" stroke="#111" stroke-width="1"/>
<rect x="80.4" y="396.6" width="3.1" height="3.1" fill="#111"/>
<text x="90" y="401" text-anchor="start" font-size="8" font-weight="bold" >Pt PHA</text>
<line x1="161.5" y1="398.1" x2="174" y2="398.1" stroke="#111" stroke-width="1"/>
<circle cx="167.8" cy="398.1" r="1.2" fill="#fff" stroke="#111" stroke-width="0.9"/>
<text x="176" y="401" text-anchor="start" font-size="8" font-weight="bold" >Pt PHA Bkg</text>
<polyline points="65.4,488.2 68.5,488.2 72.8,488.2 82.3,488.2 84.2,488.2 87,488.2 90.3,488.2 98,488.2 114.6,488.2" fill="none" stroke="#111" stroke-width="1.1" stroke-linejoin="round"/>
<circle cx="65.4" cy="488.2" r="1.4" fill="#fff" stroke="#111" stroke-width="0.9"/>
<circle cx="68.5" cy="488.2" r="1.4" fill="#fff" stroke="#111" stroke-width="0.9"/>
<circle cx="72.8" cy="488.2" r="1.4" fill="#fff" stroke="#111" stroke-width="0.9"/>
<circle cx="82.3" cy="488.2" r="1.4" fill="#fff" stroke="#111" stroke-width="0.9"/>
<circle cx="84.2" cy="488.2" r="1.4" fill="#fff" stroke="#111" stroke-width="0.9"/>
<circle cx="87" cy="488.2" r="1.4" fill="#fff" stroke="#111" stroke-width="0.9"/>
<circle cx="90.3" cy="488.2" r="1.4" fill="#fff" stroke="#111" stroke-width="0.9"/>
<circle cx="98" cy="488.2" r="1.4" fill="#fff" stroke="#111" stroke-width="0.9"/>
<circle cx="114.6" cy="488.2" r="1.4" fill="#fff" stroke="#111" stroke-width="0.9"/>
<polyline points="148,488.4 153.1,488.4 165,488.4 180.6,488.4 205.1,488.4" fill="none" stroke="#111" stroke-width="1.1" stroke-linejoin="round"/>
<circle cx="148" cy="488.4" r="1.4" fill="#fff" stroke="#111" stroke-width="0.9"/>
<circle cx="153.1" cy="488.4" r="1.4" fill="#fff" stroke="#111" stroke-width="0.9"/>
<circle cx="165" cy="488.4" r="1.4" fill="#fff" stroke="#111" stroke-width="0.9"/>
<circle cx="180.6" cy="488.4" r="1.4" fill="#fff" stroke="#111" stroke-width="0.9"/>
<circle cx="205.1" cy="488.4" r="1.4" fill="#fff" stroke="#111" stroke-width="0.9"/>
<polyline points="72.8,483.1 82.6,470.3 83.1,459.2 85.1,481.1 86.2,486.2 89.7,463.1 90.3,482.3 98,486.6 114.6,486.2 147.9,414.2" fill="none" stroke="#111" stroke-width="1.1" stroke-linejoin="round"/>
<rect x="71" y="481.3" width="3.6" height="3.6" fill="#111"/>
<rect x="80.8" y="468.5" width="3.6" height="3.6" fill="#111"/>
<rect x="81.3" y="457.4" width="3.6" height="3.6" fill="#111"/>
<rect x="83.3" y="479.3" width="3.6" height="3.6" fill="#111"/>
<rect x="84.4" y="484.4" width="3.6" height="3.6" fill="#111"/>
<rect x="87.9" y="461.3" width="3.6" height="3.6" fill="#111"/>
<rect x="88.5" y="480.5" width="3.6" height="3.6" fill="#111"/>
<rect x="96.2" y="484.8" width="3.6" height="3.6" fill="#111"/>
<rect x="112.8" y="484.4" width="3.6" height="3.6" fill="#111"/>
<rect x="146.1" y="412.4" width="3.6" height="3.6" fill="#111"/>
<polyline points="153.1,484 165,484 180.6,480.2 205.1,485.5" fill="none" stroke="#111" stroke-width="1.1" stroke-linejoin="round"/>
<rect x="151.3" y="482.2" width="3.6" height="3.6" fill="#111"/>
<rect x="163.2" y="482.2" width="3.6" height="3.6" fill="#111"/>
<rect x="178.8" y="478.4" width="3.6" height="3.6" fill="#111"/>
<rect x="203.3" y="483.7" width="3.6" height="3.6" fill="#111"/>
<circle cx="66.5" cy="478.5" r="1.2" fill="#111"/>
<circle cx="69.5" cy="478.5" r="1.2" fill="#111"/>
<circle cx="153.1" cy="478.7" r="1.2" fill="#111"/>
<circle cx="165" cy="478.7" r="1.2" fill="#111"/>
<circle cx="180.6" cy="473.4" r="1.2" fill="#111"/>
<circle cx="205.1" cy="478.7" r="1.2" fill="#111"/>
<text x="261.7" y="362.7" text-anchor="start" font-size="17.5" font-weight="bold" >F</text>
<line x1="311.5" y1="378.6" x2="311.5" y2="493.5" stroke="#555" stroke-width="1"/>
<line x1="309" y1="493.3" x2="311.5" y2="493.3" stroke="#555" stroke-width="1"/>
<text x="305" y="496.2" text-anchor="end" font-size="7.75" font-weight="bold" >0</text>
<line x1="309" y1="464.6" x2="311.5" y2="464.6" stroke="#555" stroke-width="1"/>
<text x="305" y="467.5" text-anchor="end" font-size="7.75" font-weight="bold" >100,000</text>
<line x1="309" y1="435.9" x2="311.5" y2="435.9" stroke="#555" stroke-width="1"/>
<text x="305" y="438.8" text-anchor="end" font-size="7.75" font-weight="bold" >200,000</text>
<line x1="309" y1="407.3" x2="311.5" y2="407.3" stroke="#555" stroke-width="1"/>
<text x="305" y="410.2" text-anchor="end" font-size="7.75" font-weight="bold" >300,000</text>
<line x1="309" y1="378.6" x2="311.5" y2="378.6" stroke="#555" stroke-width="1"/>
<text x="305" y="381.5" text-anchor="end" font-size="7.75" font-weight="bold" >400,000</text>
<line x1="311.5" y1="493.5" x2="513.8" y2="493.5" stroke="#555" stroke-width="1"/>
<line x1="311.6" y1="493.5" x2="311.6" y2="495.5" stroke="#555" stroke-width="1"/>
<text x="311.6" y="507.7" text-anchor="middle" font-size="8" font-weight="bold" >-1</text>
<line x1="345.3" y1="493.5" x2="345.3" y2="495.5" stroke="#555" stroke-width="1"/>
<text x="345.3" y="507.7" text-anchor="middle" font-size="8" font-weight="bold" >0</text>
<line x1="379" y1="493.5" x2="379" y2="495.5" stroke="#555" stroke-width="1"/>
<text x="379" y="507.7" text-anchor="middle" font-size="8" font-weight="bold" >1</text>
<line x1="412.6" y1="493.5" x2="412.6" y2="495.5" stroke="#555" stroke-width="1"/>
<text x="412.6" y="507.7" text-anchor="middle" font-size="8" font-weight="bold" >2</text>
<line x1="446.3" y1="493.5" x2="446.3" y2="495.5" stroke="#555" stroke-width="1"/>
<text x="446.3" y="507.7" text-anchor="middle" font-size="8" font-weight="bold" >3</text>
<line x1="480" y1="493.5" x2="480" y2="495.5" stroke="#555" stroke-width="1"/>
<text x="480" y="507.7" text-anchor="middle" font-size="8" font-weight="bold" >4</text>
<line x1="513.7" y1="493.5" x2="513.7" y2="495.5" stroke="#555" stroke-width="1"/>
<text x="513.7" y="507.7" text-anchor="middle" font-size="8" font-weight="bold" >5</text>
<text x="412.3" y="518.2" text-anchor="middle" font-size="8" font-weight="bold" >Years after transplantation</text>
<text transform="translate(271.6,435.6) rotate(-90)" text-anchor="middle" font-size="7.6" font-weight="bold">CPM</text>
<line x1="312.5" y1="384.7" x2="388.2" y2="384.7" stroke="#555" stroke-width="0.8" stroke-dasharray="1.2,1"/>
<text x="323" y="384.1" text-anchor="start" font-size="8" font-weight="bold" >+2SD</text>
<line x1="311.5" y1="433.8" x2="387.3" y2="433.8" stroke="#111" stroke-width="1.1"/>
<text x="324" y="432.2" text-anchor="start" font-size="8" font-weight="bold" >mean</text>
<line x1="312" y1="460.7" x2="388.2" y2="460.7" stroke="#555" stroke-width="0.8" stroke-dasharray="1.2,1"/>
<text x="323" y="457.5" text-anchor="start" font-size="8" font-weight="bold" >-2SD</text>
<line x1="387.3" y1="480.8" x2="446.2" y2="480.8" stroke="#555" stroke-width="0.8" stroke-dasharray="1.2,1"/>
<rect x="368" y="395.6" width="128.2" height="9" fill="#888"/>
<rect x="367" y="394.6" width="128.2" height="9" fill="#fff" stroke="#333" stroke-width="0.9"/>
<line x1="373.4" y1="399.1" x2="384.3" y2="399.1" stroke="#111" stroke-width="1"/>
<rect x="377.3" y="397.6" width="3.1" height="3.1" fill="#111"/>
<text x="385" y="402" text-anchor="start" font-size="8" font-weight="bold" >Pt PHA</text>
<line x1="435.6" y1="399.1" x2="447.1" y2="399.1" stroke="#111" stroke-width="1"/>
<circle cx="441.4" cy="399.1" r="1.2" fill="#fff" stroke="#111" stroke-width="0.9"/>
<text x="449.6" y="402" text-anchor="start" font-size="8" font-weight="bold" >Pt PHA Bkg</text>
<polyline points="343.9,493 359.6,492.8 367.2,492.8 371.6,492.8 378.5,492.8 390.5,492.8 418.5,492.5 443.4,492.5" fill="none" stroke="#111" stroke-width="1.1" stroke-linejoin="round"/>
<circle cx="343.9" cy="493" r="1.4" fill="#fff" stroke="#111" stroke-width="0.9"/>
<circle cx="359.6" cy="492.8" r="1.4" fill="#fff" stroke="#111" stroke-width="0.9"/>
<circle cx="367.2" cy="492.8" r="1.4" fill="#fff" stroke="#111" stroke-width="0.9"/>
<circle cx="371.6" cy="492.8" r="1.4" fill="#fff" stroke="#111" stroke-width="0.9"/>
<circle cx="378.5" cy="492.8" r="1.4" fill="#fff" stroke="#111" stroke-width="0.9"/>
<circle cx="390.5" cy="492.8" r="1.4" fill="#fff" stroke="#111" stroke-width="0.9"/>
<circle cx="418.5" cy="492.5" r="1.4" fill="#fff" stroke="#111" stroke-width="0.9"/>
<circle cx="443.4" cy="492.5" r="1.4" fill="#fff" stroke="#111" stroke-width="0.9"/>
<polyline points="343.9,493 359.6,483.1 367.7,469.7 371.6,458.2 378.5,441.1 390.5,453.6 418.5,476.6 443.4,466.5" fill="none" stroke="#111" stroke-width="1.1" stroke-linejoin="round"/>
<rect x="342.1" y="491.2" width="3.6" height="3.6" fill="#111"/>
<rect x="357.8" y="481.3" width="3.6" height="3.6" fill="#111"/>
<rect x="365.9" y="467.9" width="3.6" height="3.6" fill="#111"/>
<rect x="369.8" y="456.4" width="3.6" height="3.6" fill="#111"/>
<rect x="376.7" y="439.3" width="3.6" height="3.6" fill="#111"/>
<rect x="388.7" y="451.8" width="3.6" height="3.6" fill="#111"/>
<rect x="416.7" y="474.8" width="3.6" height="3.6" fill="#111"/>
<rect x="441.6" y="464.7" width="3.6" height="3.6" fill="#111"/>
<circle cx="390" cy="446.6" r="1.2" fill="#111"/>
<circle cx="418.5" cy="468.8" r="1.2" fill="#111"/>
<circle cx="443.4" cy="461.8" r="1.2" fill="#111"/>
</svg>
</body></html>
